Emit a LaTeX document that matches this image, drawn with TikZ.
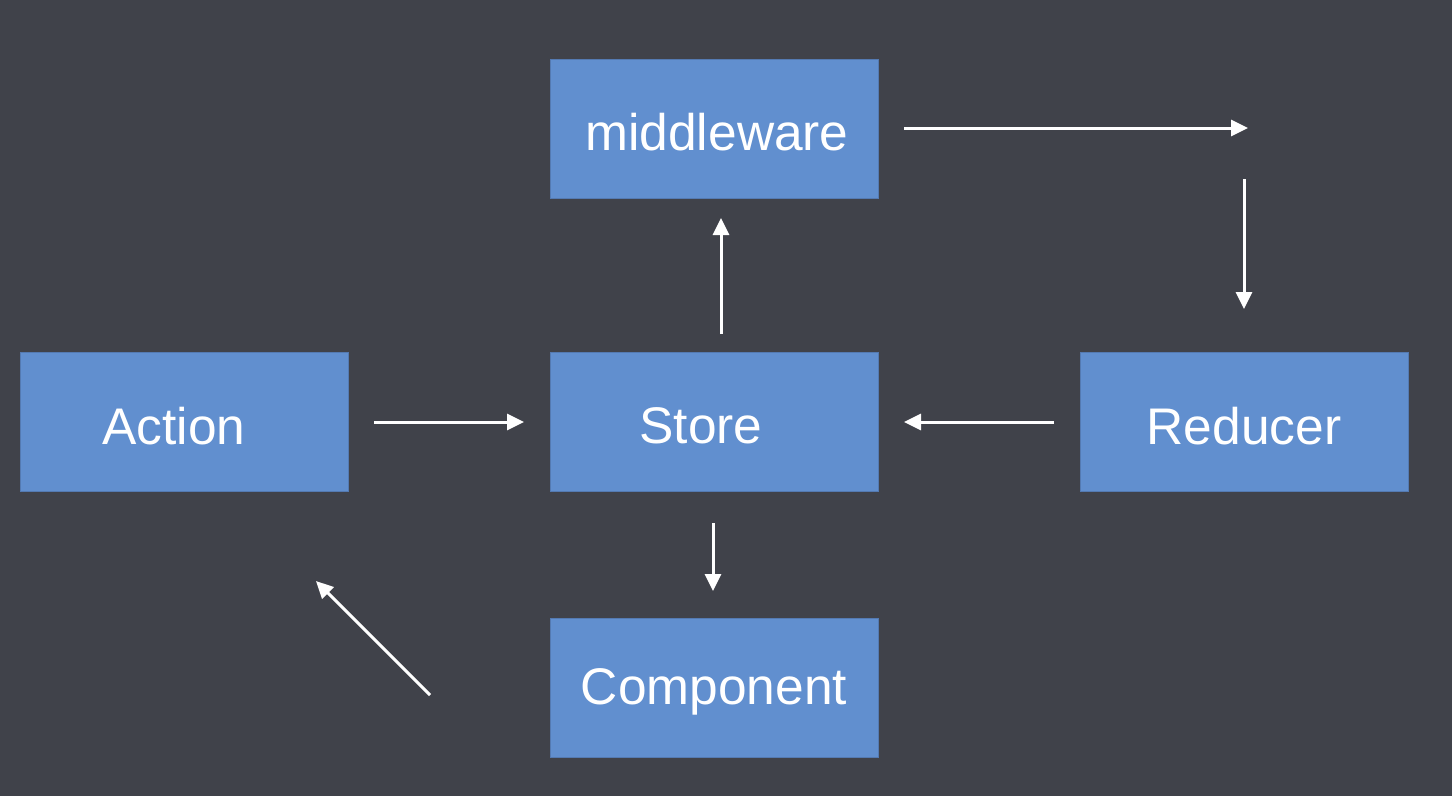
\documentclass[tikz,border=0pt]{standalone}
\usepackage{fontspec}
\setmainfont{Liberation Sans}
\usetikzlibrary{arrows.meta}
\definecolor{bg}{RGB}{64,66,74}
\definecolor{boxfill}{RGB}{97,143,207}
\definecolor{boxline}{RGB}{84,122,178}
\newcommand{\lbl}[2]{\raisebox{-4pt}[\height][\depth]{\hspace*{#1}#2}}
\tikzset{
  box/.style={rectangle, fill=boxfill, draw=boxline, line width=1pt,
    minimum width=328pt, minimum height=139pt, inner sep=0pt,
    text=white, font=\fontsize{51.5}{60}\selectfont},
  flow/.style={draw=white, line width=3pt, -{Triangle[length=17pt,width=16pt]}}
}
\begin{document}
\begin{tikzpicture}[x=1pt,y=-1pt]
\fill[bg] (0,0) rectangle (1452,796);
\useasboundingbox (0,0) rectangle (1452,796);
\node[box] (mw) at (714,128.5) {\lbl{6pt}{middleware}};
\node[box] (action) at (184,422) {\lbl{-20pt}{Action}};
\node[box] (store) at (714,422) {\lbl{-26pt}{Store}};
\node[box] (reducer) at (1244,422) {\lbl{0pt}{Reducer}};
\node[box] (comp) at (714,688) {\lbl{0pt}{Component}};
% arrow end points
\coordinate (a1) at (374,422); \coordinate (a2) at (524,422);
\coordinate (r1) at (1054,422); \coordinate (r2) at (904,422);
\coordinate (s1) at (721,334); \coordinate (s2) at (721,218);
\coordinate (c1) at (713,523); \coordinate (c2) at (713,591);
\coordinate (m1) at (904,128); \coordinate (m2) at (1248,128);
\coordinate (d1) at (1244,179); \coordinate (d2) at (1244,309);
\coordinate (g1) at (430,695); \coordinate (g2) at (316,581);
\draw[flow] (a1) -- (a2);
\draw[flow] (r1) -- (r2);
\draw[flow] (s1) -- (s2);
\draw[flow] (c1) -- (c2);
\draw[flow] (m1) -- (m2);
\draw[flow] (d1) -- (d2);
\draw[flow] (g1) -- (g2);
\end{tikzpicture}
\end{document}
